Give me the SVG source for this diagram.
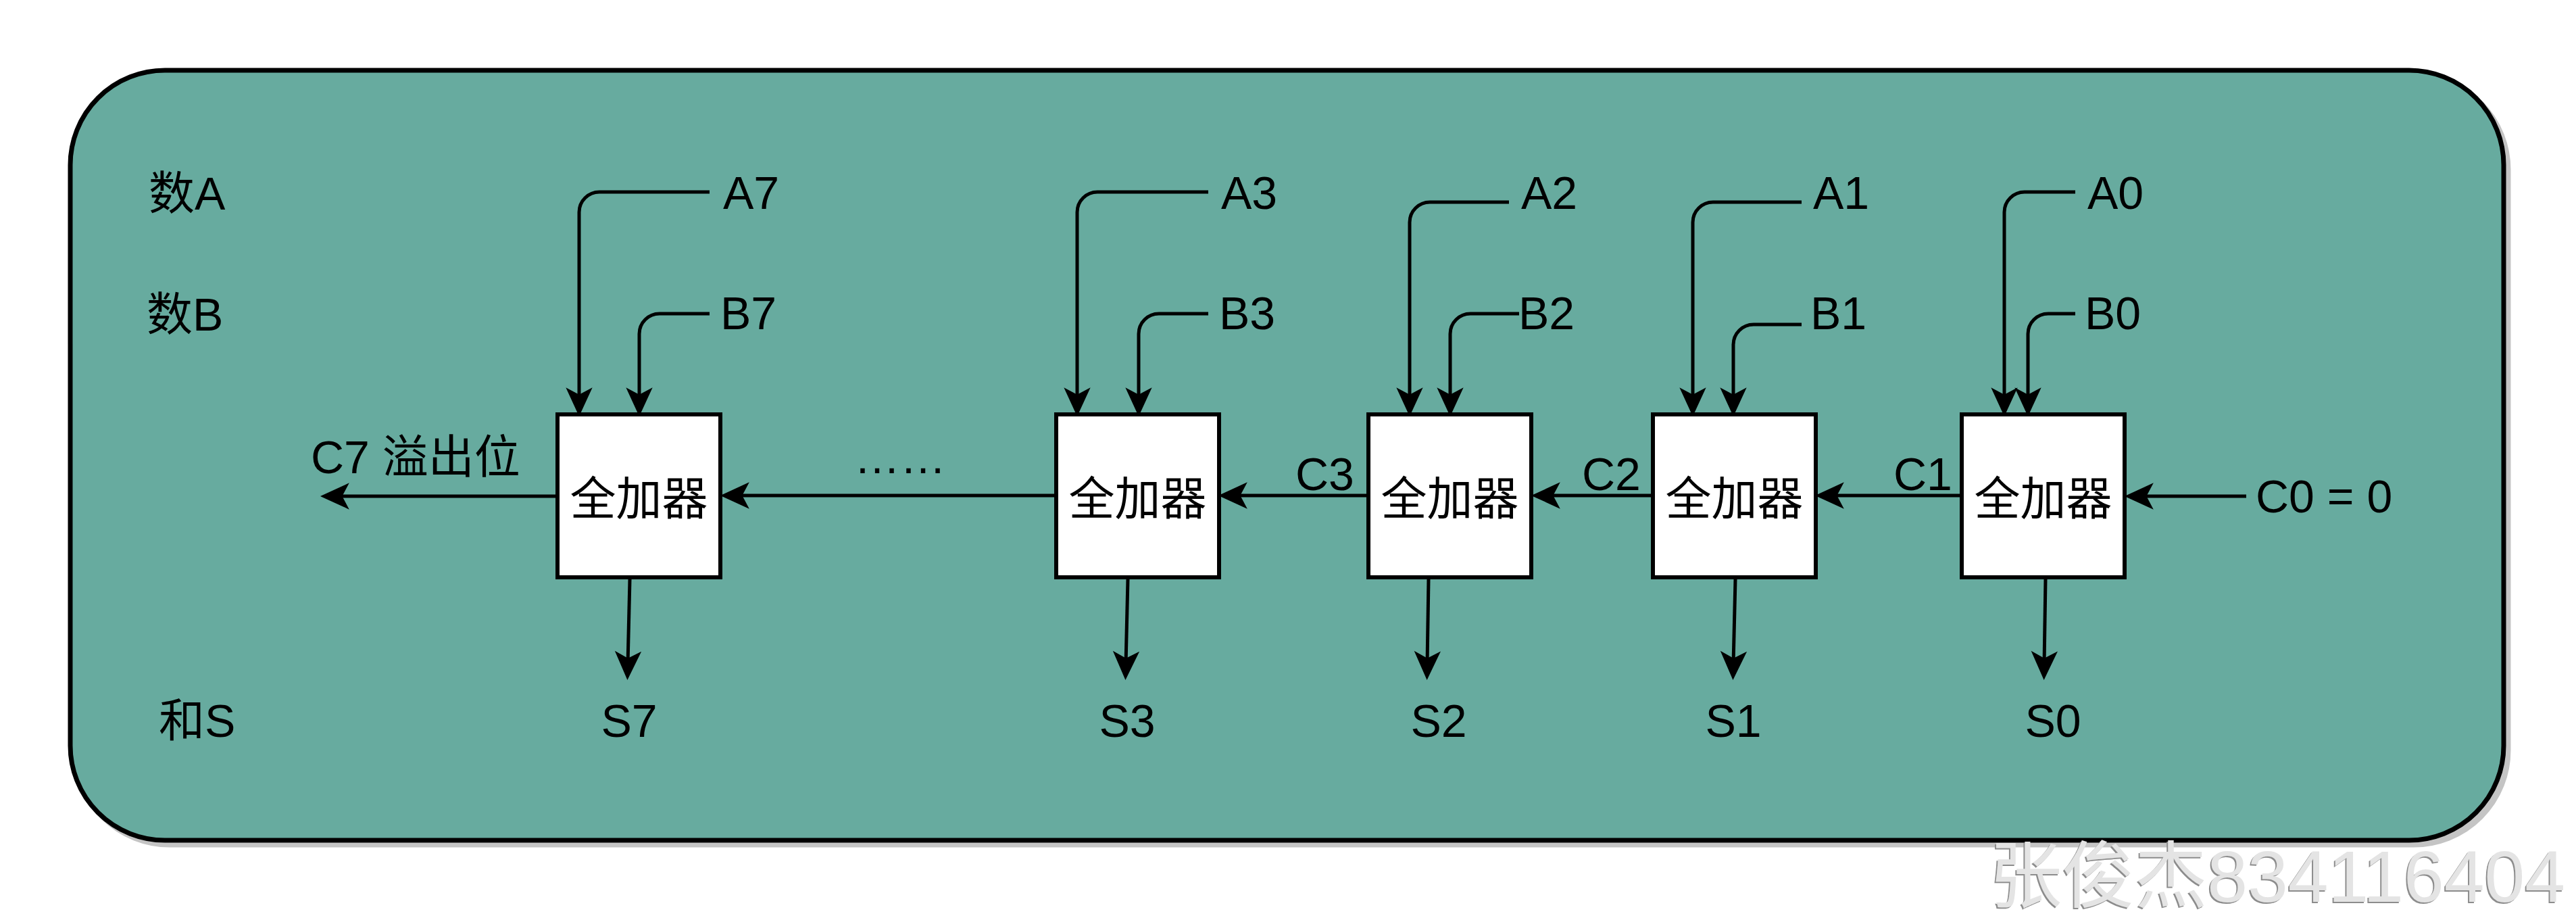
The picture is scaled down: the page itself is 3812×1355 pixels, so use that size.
<svg xmlns="http://www.w3.org/2000/svg" width="3812" height="1355" viewBox="0 0 3812 1355">
<style>
text{font-family:"Liberation Sans","Noto Sans CJK SC",sans-serif;font-size:68px;fill:#000}
.box{fill:#fff;stroke:#000;stroke-width:6}
.edge{fill:none;stroke:#000;stroke-width:5}
.mid{text-anchor:middle}
.wm{font-size:108px;fill:#e4e4e4}
</style>
<defs>
<marker id="arr" markerUnits="userSpaceOnUse" markerWidth="90" markerHeight="90" viewBox="-45 -45 90 90" refX="0" refY="0" orient="auto" overflow="visible">
<path d="M20,0 L-17,-17 L-8,0 L-17,17 Z" fill="#000" stroke="#000" stroke-width="2.5" stroke-linejoin="miter"/>
</marker>
<filter id="wmshadow" x="-5%" y="-20%" width="110%" height="140%">
<feDropShadow dx="-2" dy="2" stdDeviation="0.5" flood-color="#8c8c8c" flood-opacity="1"/>
</filter>
</defs>

<g id="container">
<rect x="111" y="111" width="3601" height="1139" rx="140" ry="140" fill="#c4c4c4" stroke="#c4c4c4" stroke-width="7"/>
<rect x="104" y="104" width="3601" height="1139" rx="140" ry="140" fill="#67AB9F" stroke="#000" stroke-width="7"/>
</g>

<g id="row-labels">
<text x="220" y="310">数A</text>
<text x="217" y="489">数B</text>
<text x="235" y="1090">和S</text>
</g>

<g id="adder7"><rect class="box" x="825" y="613" width="241" height="241"/><text class="mid" x="945.5" y="762">全加器</text></g>
<g id="adder3"><rect class="box" x="1563" y="613" width="241" height="241"/><text class="mid" x="1683.5" y="762">全加器</text></g>
<g id="adder2"><rect class="box" x="2025" y="613" width="241" height="241"/><text class="mid" x="2145.5" y="762">全加器</text></g>
<g id="adder1"><rect class="box" x="2446" y="613" width="241" height="241"/><text class="mid" x="2566.5" y="762">全加器</text></g>
<g id="adder0"><rect class="box" x="2903" y="613" width="241" height="241"/><text class="mid" x="3023.5" y="762">全加器</text></g>

<g id="inputs">
<text x="1070" y="309">A7</text><text x="1066" y="487">B7</text>
<text x="1807" y="309">A3</text><text x="1804" y="487">B3</text>
<text x="2251" y="309">A2</text><text x="2247" y="487">B2</text>
<text x="2683" y="309">A1</text><text x="2679" y="487">B1</text>
<text x="3089" y="309">A0</text><text x="3085" y="487">B0</text>
<text x="3338" y="758">C0 = 0</text>
</g>

<g id="carry-labels">
<text x="2802" y="725">C1</text>
<text x="2341" y="725">C2</text>
<text x="1917" y="725">C3</text>
<text x="1264" y="700">……</text>
<text x="460" y="700">C7 溢出位</text>
</g>

<g id="sums">
<text class="mid" x="931" y="1090">S7</text>
<text class="mid" x="1668" y="1090">S3</text>
<text class="mid" x="2129" y="1090">S2</text>
<text class="mid" x="2565" y="1090">S1</text>
<text class="mid" x="3038" y="1090">S0</text>
</g>

<g id="connectors">
<path class="edge" marker-end="url(#arr)" d="M1050,284 H887 A30,30 0 0 0 857,314 V593"/>
<path class="edge" marker-end="url(#arr)" d="M1050,464 H976 A30,30 0 0 0 946,494 V593"/>
<path class="edge" marker-end="url(#arr)" d="M1788,284 H1624 A30,30 0 0 0 1594,314 V593"/>
<path class="edge" marker-end="url(#arr)" d="M1788,464 H1715 A30,30 0 0 0 1685,494 V593"/>
<path class="edge" marker-end="url(#arr)" d="M2233,299 H2116 A30,30 0 0 0 2086,329 V593"/>
<path class="edge" marker-end="url(#arr)" d="M2248,464 H2176 A30,30 0 0 0 2146,494 V593"/>
<path class="edge" marker-end="url(#arr)" d="M2666,299 H2535 A30,30 0 0 0 2505,329 V593"/>
<path class="edge" marker-end="url(#arr)" d="M2666,480 H2595 A30,30 0 0 0 2565,510 V593"/>
<path class="edge" marker-end="url(#arr)" d="M3071,284 H2996 A30,30 0 0 0 2966,314 V593"/>
<path class="edge" marker-end="url(#arr)" d="M3071,464 H3031 A30,30 0 0 0 3001,494 V593"/>
<path class="edge" marker-end="url(#arr)" d="M3324,734 H3167"/>
<path class="edge" marker-end="url(#arr)" d="M2903,733 H2709"/>
<path class="edge" marker-end="url(#arr)" d="M2446,733 H2289"/>
<path class="edge" marker-end="url(#arr)" d="M2025,733 H1826"/>
<path class="edge" marker-end="url(#arr)" d="M1563,733 H1089"/>
<path class="edge" marker-end="url(#arr)" d="M825,734 H497"/>
<path class="edge" marker-end="url(#arr)" d="M932,857 L929,983"/>
<path class="edge" marker-end="url(#arr)" d="M1669,857 L1666,983"/>
<path class="edge" marker-end="url(#arr)" d="M2114,857 L2112,983"/>
<path class="edge" marker-end="url(#arr)" d="M2568,857 L2565,983"/>
<path class="edge" marker-end="url(#arr)" d="M3027,857 L3025,983"/>
</g>

<g id="watermark">
<text class="wm" x="2944" y="1334" textLength="852" lengthAdjust="spacingAndGlyphs" filter="url(#wmshadow)">张俊杰834116404</text>
</g>
</svg>
